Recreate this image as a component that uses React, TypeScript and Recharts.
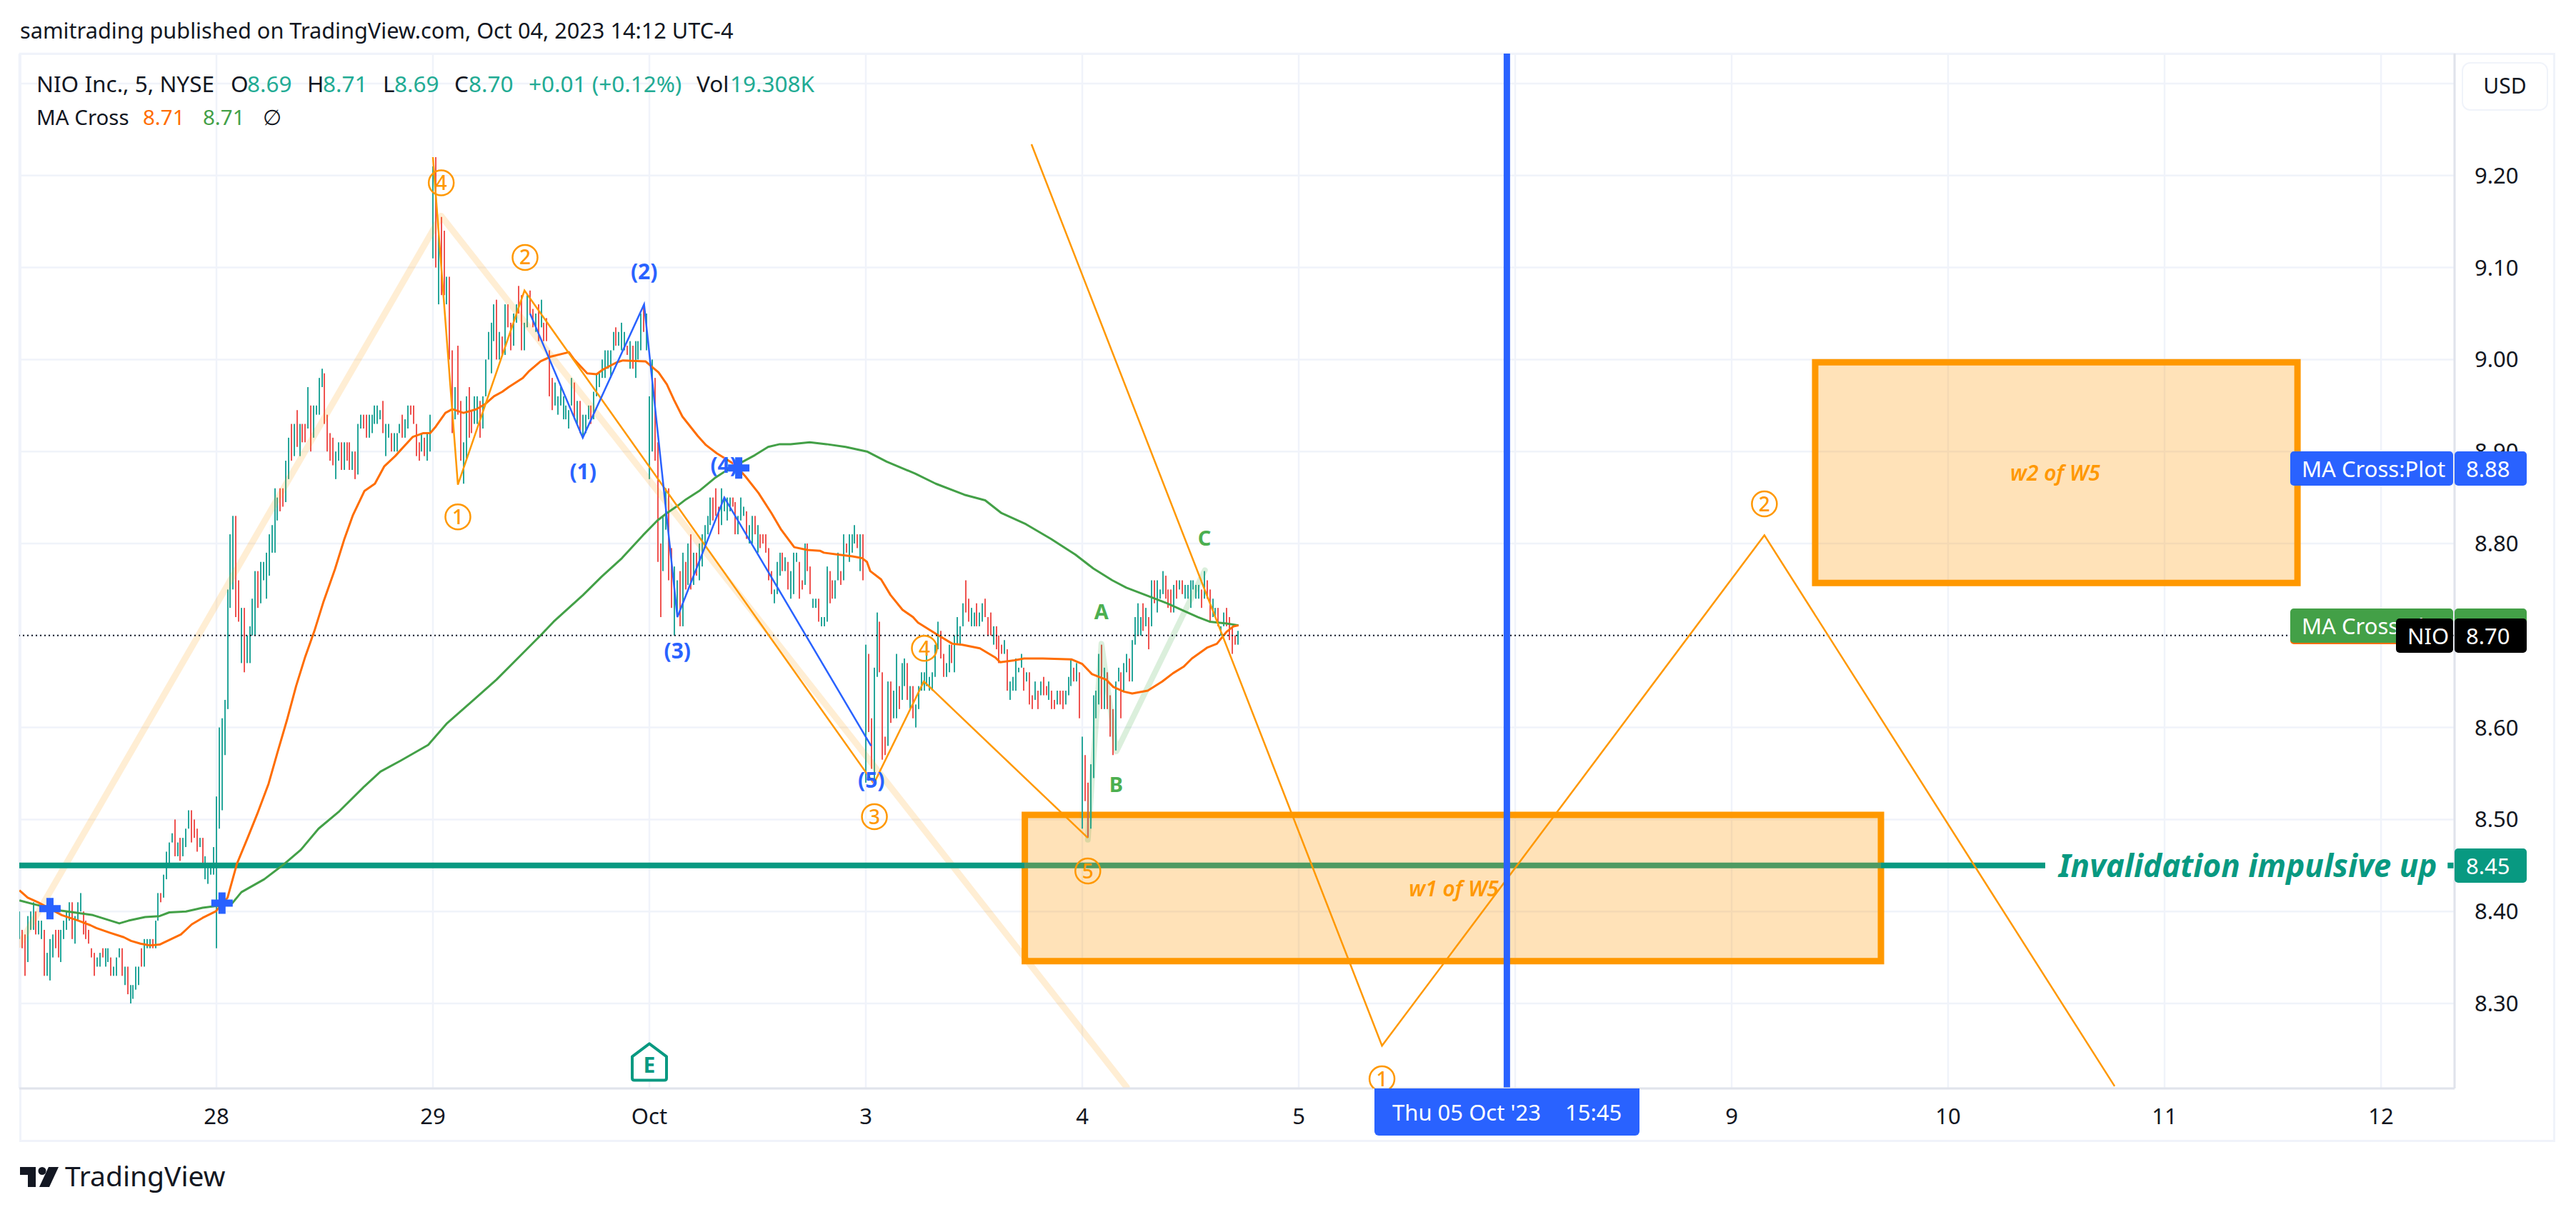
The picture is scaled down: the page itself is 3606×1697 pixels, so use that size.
import React from 'react';
import {
  ComposedChart,
  Bar,
  Line,
  Scatter,
  XAxis,
  YAxis,
  CartesianGrid,
  ReferenceArea,
  ReferenceLine,
} from 'recharts';

// x is counted in 5 minute bars from the Sep 28 open, y in cents
const firstBar = -71;
const xMin = -71.05;
const xMax = 806.5;
const yMin = 820.76;
const yMax = 933.26;

const highs = [
  840,838,837.5,839.5,840,841,840,839,839,838,
  835.5,837,837.5,838,838,838,839,840,841,841,
  839.5,841,842,840,839,838,836,835.5,835,835.5,
  836,836,836,835,834,835,836,836,834,834,
  832,832,834,834,836,837,837,837,837,839,
  842,842,844,846.5,847.5,848.5,850,847.5,848,848,
  849,851,851,850,849,848,848,846,845,845,
  847,852.5,
  860,861,863,875,881,883,883,876,873,873,
  870,871,874,877,877,878,878,879,881,882,
  886,885,886,886,889,891.5,893,893,894.5,893,
  893,893,897,895,895,895,898,899,898.5,894,
  892,891.5,890,891,891,891,891,891,890,890,
  893,894,894,894,894,894,895,895,894.5,895.5,
  893,893,892,892,892,893,894,893.5,895,895,
  895,893,891,892,891.5,892,894,
  921,922,914,915.5,914,909,909,901,897,901.5,
  895.5,891,896,897,894.5,896,896,895.5,896,900,
  903,904,906,906.5,903,902.5,906,906,904,905,
  906,908,907,904,907,907.5,905.5,905,906,906.5,
  904,904.5,901,898,897.5,896,897,896,895,894.5,
  898,897.5,895.5,895.5,894,894,895,895,896.5,898.5,
  898.5,900,901,901,901,903,903.5,903,904,903,
  901.5,902,901.5,902,902,905,906,905,896,900,
  898,891,880,883,886,886,879.5,877.5,876,877,
  879,878,880,881,879,879,880,881,882,883,
  885,885,886,884,886,885,885,885,885,884.5,
  883,885,884,883.5,882,883,883,882,881,881,
  881,879.5,877,875,878,879,879,878.5,878,877,
  879,879,878,876,880,880,877.5,874,874,874,
  872,872,877.5,877,876,876,879,877,881,880,
  881,881,882,881,881,881,
  869,868,861,866.5,872.5,871.5,866,859,865,865,
  864,868,864.5,867,867.5,867,864.5,864.5,862.5,864.5,
  866,866,869,865.5,866,869,871.5,870.5,868,867,
  869,869,870,872,871,873.5,876,874,873,872.5,
  873.5,872.5,873.5,874,872,872.5,871,871,870,869,
  869.5,868.5,865,865.5,867.5,866.5,868,866.5,866,866,
  863.5,865,864,865,865.5,864.5,865,864,863,864,
  864,864,864,865.5,867.5,866.5,867,866,859,857,
  854,856,863.5,864,868,869,866.5,866,863.5,862,
  865,866.5,866,867,868,867.5,869.5,872,873.5,872,
  873.5,873,872,876,876,876,875,877,876.5,875,
  875,875.5,876,876,876,875.5,875.5,876,876,875.5,
  875.5,875,877,876,875,874,873,873,871,872.5,873,872,871,870,870.5,
];

const lows = [
  837,836,833,834.5,838,838,837.5,837.5,837,833,
  833,832.5,835,836,835,834.5,837,838,839,837,
  836.5,839,840,837.5,837,836.5,835,833,834,834,
  835,834,834.5,833,833,833,835,833,832,831,
  830,830.5,831.5,832,834,834,836,836,836,836,
  839,841,841.5,843.5,845,847.5,846,846,845.5,846,
  847,849,847.5,848,846.5,847,845,843.5,843,844,
  844,836,
  849,851,857,862,873,875,872,871.5,867,866,
  867,867,870,870,873,873.5,876,874,876.5,879,
  879,882.5,883.5,884,884.5,887,889,889.5,890.5,889.5,
  891,891,892.5,890,891.5,894,894,897,893,890,
  889,888.5,887,889,888,888,889,888,888,887,
  887.5,892.5,892.5,891.5,891.5,892,893,893,893.5,892,
  889.5,891.5,890,890,890,892,891.5,891.5,892.5,894,
  893,889.5,889,890,889.5,889,890,
  911,910,906,907,907,906,900,892,893.5,894,
  889,886.5,889,891.5,892,893,893,891.5,892.5,896,
  900,898.5,902,900,900,900.5,900.5,903.5,901,901.5,
  904,905,901,901,903.5,905,903.5,903,902,903.5,
  902,902,896,894.5,895,894,895,893.5,893.5,892.5,
  895,893.5,893,892,891.5,892,893.5,893,893.5,896,
  897,898,898,899,898,901,901.5,901.5,901,901,
  900.5,899,899,898,900,901,903,901,887,890,
  889,878,872,877,881.5,876,873,870,872,871,
  871,875,875.5,875,875.5,876.5,876,877.5,879.5,881,
  882,882.5,883,881,882,883.5,882.5,883.5,884,881,
  881,882.5,883,880.5,880,880,881,879,879.5,880,
  879,876,874.5,873.5,874.5,876.5,877,877,875,874,
  874.5,878,874,875,875.5,877,874.5,873,873,871.5,
  871,871,871.5,873.5,874,874,876,875.5,876,879,
  878,879,880,879.5,877,876,
  854,859.5,855.5,854,865.5,866,856.5,857,858,860.5,
  861,861,862,863,864.5,863,862,861,860,862,
  864,864,864.5,864,864,865.5,868.5,867.5,865.5,865.5,
  866,867,866,869,869,871,872.5,871.5,871,871,
  871,871,871.5,872,870,870,869,868.5,867,868,
  868,864,863,864,864,866,866.5,864,865,862.5,
  862,863,862,863.5,863.5,863.5,863,862,862,862.5,
  862.5,862,862.5,863.5,864.5,865,865,861,849,852,
  848,849,854.5,861,862.5,862,862,862,859,857,
  857.5,865,861,864,866,865,865,869,870,870,
  870.5,871,868.5,871,873.5,872.5,874,874.5,874,873,
  872.5,872.5,874,875,874.5,874,874,873,875,874,
  874,873,874,874,871.5,872,872,871,870,871,871,869.5,868,869,869,
];

// G closes up, R closes down
const directions =
  'GRRGGGRGGR' + 'GGGRRGGGGR' + 'GGGRRRRRGG' + 'RGGRGGGRGR' + 'GGGGRGGGRG' +
  'GRGGGGRGRG' + 'GGRRRGRGGG' + 'GG' +
  'GGGGGGRRGR' + 'GGGGRGGGGG' + 'GGRRGGRGRG' + 'RRGRGGGGRR' + 'RRGGRGRRGR' +
  'GGRRGGGGGR' + 'GGRGGGRGGR' + 'RRRGRGG' +
  'GRGRRGRRGR' + 'RGGRRGGRGG' + 'GGGRGRGRRG' + 'GRRGGRRGRG' + 'RRRRGGGGGG' +
  'GRGRGGGRGG' + 'GGGGGGRGGG' + 'RGRGGGRGGG' + 'RRRGGRRGGR' + 'GRGRGRGGGG' +
  'GRRRGGGGRR' + 'GGGRGGRGRR' + 'RRRGGGRGRG' + 'GGRRGRRGGR' + 'GGGRRGGRGR' + 'GGGRGR' +
  'GRRGGRRRGR' + 'GGRGGRGRGG' + 'GGGGGGGRRG' + 'GRGGGGRRGG' + 'RGGRRRGRRR' +
  'GRGGGGGRGR' + 'RGRGRRGRRG' + 'RRGGGRGRGR' + 'RGGGGRGRRR' + 'GGRGGRGGGG' +
  'RGRGRGGGRR' + 'RGRGRGGGGG' + 'GRGRRGGRGGRRRRG';

const maFast = [
  [-71,842.3],[-68,841.5],[-64.3,841],[-60,840.3],[-55.7,839.6],[-49.7,839],[-45.4,838.5],[-43.3,838.2],
  [-38.5,837.7],[-33.4,837.2],[-30.8,836.8],[-27.4,836.5],[-24,836.3],[-20.5,836.4],[-17,836.9],[-12.8,837.5],
  [-8.9,838.6],[-5,839.3],[-0.3,840],[4,841.5],[7.4,845.2],[11.5,848.2],[14.7,850.6],[18.8,853.9],[22,857.3],
  [25.4,860.8],[28.7,864.5],[32,867.7],[35.3,870.5],[38.6,873.7],[42.7,877.2],[46,880.4],[49.2,883.1],
  [53.3,885.7],[57.1,886.5],[60.5,888.4],[64.4,889.5],[68,890.7],[70.8,891.6],[74.6,892],[77,892],
  [79,892.7],[82.5,894.2],[85,894.6],[89,894.2],[93.7,894.6],[97,895.2],[100,896],[103,896.5],[105.3,897],
  [110.4,898],[112.5,898.7],[116.8,899.8],[120.3,900.3],[127,900.8],[128.9,900],[133.6,898.5],[137,898.4],
  [139.2,898.9],[144.3,899.7],[146.5,899.9],[154.6,899.8],[159.3,898.6],[162.3,897.3],[164.9,895.6],
  [167.9,893.8],[173.4,891.7],[176.4,890.7],[180.3,889.8],[186.7,888.6],[190.6,887.3],[195.3,885.5],
  [200,883.3],[203.5,881.5],[208.2,879.6],[212.9,879.3],[217.6,879.2],[218.9,879],[224,878.8],[229.2,878.6],
  [232.7,878.4],[234.4,878],[235.6,877],[239.5,876.1],[242.9,874.4],[247.2,872.8],[251,872],[252.8,871.4],
  [259.7,870.1],[265.2,869.1],[268.7,869],[275.1,868.6],[280.7,867.6],[282.4,867.1],[287.6,867.3],[291,867.5],
  [297.8,867.5],[308.2,867.4],[312,866.9],[315.5,865.8],[320.6,865.2],[323.2,864.4],[327,863.9],[330,863.7],
  [335.6,864],[340.8,865],[344.7,865.9],[348.5,866.6],[351.5,867.5],[357.1,868.7],[360.5,869.1],[364,870.4],
  [366.5,871],[368.3,871.1],
];

const maSlow = [
  [-71,841.2],[-66,840.8],[-56,840.1],[-44.5,839.6],[-35,838.7],[-31.7,839],[-25.7,839.4],[-20.5,839.5],
  [-17,839.9],[-11,840],[-5,840.4],[0,840.6],[2.4,840.6],[5.7,840.9],[9,842.1],[17.2,843.5],[24.6,845.2],
  [30.4,846.7],[36.8,849],[44.3,850.9],[53.3,853.6],[59.1,855.2],[66.4,856.4],[76.3,858.1],[82.9,860.4],
  [92.7,863],[100.9,865.2],[110.8,868.2],[117.4,870.2],[121.5,871.5],[132.1,874.4],[138.8,876.4],[146.1,878.4],
  [153.7,880.9],[158.9,882.5],[162.3,883.3],[166.6,884.2],[169.2,884.8],[173.9,885.7],[179.5,887.1],
  [184.6,888.1],[189.7,888.9],[194,889.6],[198.8,890.5],[203,890.8],[206.9,890.8],[213.8,891],[219.8,890.8],
  [226.7,890.5],[234.4,890],[241.5,888.9],[251.8,887.6],[259.2,886.5],[269.5,885.3],[277,884.7],[282.9,883.3],
  [291.7,882.1],[300.7,880.5],[309.5,878.8],[315.9,877.3],[322.8,876],[327.9,875.2],[334.8,874.4],[342.5,873.5],
  [348.5,872.7],[353.7,872],[357.9,871.5],[364,871.3],[368.3,871.1],
];

const paleImpulse = [[-71,836.4],[81,915.6],[328,820.9]];
const paleCorrection = [[314,847.8],[318.9,869.1],[324.3,857.4],[356.2,877.1]];
const waveOrange = [[78,922],[87,886.4],[111,907.5],[236.9,853.9],[254.9,865],[314,848]];
const waveBlue = [[113,905],[132,891.5],[154.1,906],[166.1,872],[183,885],[235.9,858]];
const projection = [[293.7,923.4],[420,825.4],[557.8,880.9],[684,821]];

const lowerBox = { x1: 291.3, x2: 599.8, y1: 834.6, y2: 850.5 };
const upperBox = { x1: 576.1, x2: 749.9, y1: 875.7, y2: 899.7 };

const invalidationLeft = [[xMin,845],[lowerBox.x1,845]];
const invalidationInBox = [[lowerBox.x1,845],[lowerBox.x2,845]];
const invalidationMiddle = [[lowerBox.x2,845],[659,845]];
const invalidationRight = [[804,845],[xMax,845]];

const circledLabels = [
  [81,919.2,'4'],[111.2,911.1,'2'],[87,882.9,'1'],[237.1,850.3,'3'],
  [255.1,868.6,'4'],[314,844.4,'5'],[420,821.8,'1'],[557.8,884.3,'2'],
];
const blueLabels = [[132.1,887.8,'(1)'],[154.1,909.6,'(2)'],[166.1,868.3,'(3)'],[182.8,888.5,'(4)'],[236,854.3,'(5)']];
const greenLabels = [[318.9,872.6,'A'],[324.2,853.8,'B'],[356,880.6,'C']];
const crossMarks = [[-60,840.3],[2,840.9],[188.2,888.2]];
const earningsMarks = [[156,823.6]];
const boxLabels = [[445.9,842.5,'w1 of W5'],[662.6,887.7,'w2 of W5']];
const lineLabels = [[732,845,'Invalidation impulsive up']];

const dayLabels = ['28','29','Oct','3','4','5','6','9','10','11','12'];
const dayTicks = dayLabels.map((_, i) => i * 78);
const priceTicks = [830,840,850,860,870,880,890,900,910,920,930];

const legendRowOne = [
  ['NIO Inc., 5, NYSE', 51, '#131722'],['O', 323, '#131722'],['8.69', 346, '#22ab94'],['H', 430, '#131722'],
  ['8.71', 452, '#22ab94'],['L', 536, '#131722'],['8.69', 552, '#22ab94'],['C', 636, '#131722'],
  ['8.70', 656, '#22ab94'],['+0.01 (+0.12%)', 740, '#22ab94'],['Vol', 975, '#131722'],['19.308K', 1022, '#22ab94'],
];
const legendRowTwo = [
  ['MA Cross', 51, '#131722'],['8.71', 200, '#ff6d00'],['8.71', 284, '#43a047'],['∅', 368, '#131722'],
];

const FONT = '"Noto Sans", sans-serif';
const UP = '#26a69a';
const DOWN = '#ef5350';
const ORANGE = '#ff9800';
const BLUE = '#2962ff';
const TEAL = '#089981';

const toPoints = (rows: any[]) => rows.map(([x, y, text]) => ({ x, y, text }));

const bars = highs.map((h, i) => ({ x: i + firstBar, range: [lows[i], h], up: directions[i] === 'G' }));

// 5 minute bars read as plain 2px sticks at this zoom
const StickBar = ({ x, y, width, height, payload }: any) => (
  <rect
    x={Math.round(x + width / 2) - 1}
    y={y}
    width={2}
    height={Math.max(height, 1)}
    fill={payload.up ? UP : DOWN}
  />
);

const CircleMark = ({ cx, cy, payload }: any) => (
  <g>
    <circle cx={cx} cy={cy} r={17.5} fill="none" stroke={ORANGE} strokeWidth={2.5} />
    <text x={cx} y={cy + 10} textAnchor="middle" fontFamily={FONT} fontSize={28} fontWeight={500} fill={ORANGE}>{payload.text}</text>
  </g>
);

const TextMark = (color: string, size: number, weight: number, italic: boolean) => ({ cx, cy, payload }: any) => (
  <text
    x={cx}
    y={cy + size * 0.36}
    textAnchor="middle"
    fontFamily={FONT}
    fontSize={size}
    fontWeight={weight}
    fontStyle={italic ? 'italic' : 'normal'}
    fill={color}
  >
    {payload.text}
  </text>
);

const CrossMark = ({ cx, cy }: any) => (
  <path
    d={`M${cx - 5} ${cy - 15}h10v10h10v10h-10v10h-10v-10h-10v-10h10z`}
    fill={BLUE}
  />
);

const EarningsMark = ({ cx, cy }: any) => (
  <g>
    <path
      d={`M${cx} ${cy - 26}L${cx + 24} ${cy - 8}V${cy + 22}q0 3 -3 3H${cx - 21}q-3 0 -3 -3V${cy - 8}z`}
      fill="#fff"
      stroke={TEAL}
      strokeWidth={4}
      strokeLinejoin="round"
    />
    <text x={cx} y={cy + 15} textAnchor="middle" fontFamily={FONT} fontSize={30} fontWeight={700} fill={TEAL}>E</text>
  </g>
);

const PriceTag = ({ left, top, width, color, label }: any) => (
  <div
    style={{
      position: 'absolute',
      left,
      top,
      width,
      height: 48,
      background: color,
      borderRadius: 5,
      color: '#fff',
      fontSize: 31,
      lineHeight: '48px',
      fontFamily: FONT,
      whiteSpace: 'nowrap',
      overflow: 'hidden',
    }}
  >
    <span style={{ position: 'absolute', left: 16 }}>{label}</span>
  </div>
);

const Text = ({ left, top, color, size = 31, weight = 400, children }: any) => (
  <div
    style={{
      position: 'absolute',
      left,
      top,
      color,
      fontSize: size,
      fontWeight: weight,
      fontFamily: FONT,
      lineHeight: 1,
      whiteSpace: 'nowrap',
    }}
  >
    {children}
  </div>
);

export default function App() {
  return (
    <div style={{ position: 'absolute', left: 0, top: 0, width: 3606, height: 1697, background: '#fff', overflow: 'hidden' }}>
      <div style={{ position: 'absolute', left: 27, top: 74, width: 3550, height: 1525, border: '3px solid #f0f3fa', boxSizing: 'border-box' }} />

      <ComposedChart
        width={3606}
        height={1697}
        data={bars}
        margin={{ top: 75, right: 28, bottom: 97, left: 27 }}
        style={{ position: 'absolute', left: 0, top: 0 }}
      >
        <CartesianGrid stroke="#f0f3fa" strokeWidth={2.5} />
        <XAxis
          type="number"
          dataKey="x"
          domain={[xMin, xMax]}
          allowDataOverflow
          ticks={dayTicks}
          interval={0}
          height={76}
          stroke="#e0e3eb"
          strokeWidth={3}
          tickLine={false}
          tickMargin={22}
          tick={{ fontFamily: FONT, fontSize: 31, fill: '#131722' }}
          tickFormatter={(v: number) => dayLabels[v / 78]}
        />
        <YAxis
          type="number"
          dataKey="y"
          orientation="right"
          domain={[yMin, yMax]}
          allowDataOverflow
          ticks={priceTicks}
          interval={0}
          width={142}
          stroke="#e0e3eb"
          strokeWidth={3}
          tickLine={false}
          tickMargin={22}
          tick={{ fontFamily: FONT, fontSize: 31, fill: '#131722' }}
          tickFormatter={(v: number) => (v / 100).toFixed(2)}
        />

        <Line data={toPoints(paleImpulse)} dataKey="y" stroke={ORANGE} strokeOpacity={0.17} strokeWidth={9} strokeLinecap="round" strokeLinejoin="round" dot={false} isAnimationActive={false} />
        <Line data={toPoints(invalidationLeft)} dataKey="y" stroke={TEAL} strokeWidth={8} dot={false} isAnimationActive={false} />
        <Line data={toPoints(invalidationInBox)} dataKey="y" stroke="#4d9a62" strokeWidth={8} dot={false} isAnimationActive={false} />
        <Line data={toPoints(invalidationMiddle)} dataKey="y" stroke={TEAL} strokeWidth={8} dot={false} isAnimationActive={false} />
        <Line data={toPoints(invalidationRight)} dataKey="y" stroke={TEAL} strokeWidth={8} dot={false} isAnimationActive={false} />

        <Bar dataKey="range" barSize={2} shape={StickBar} isAnimationActive={false} />

        <Line data={toPoints(paleCorrection)} dataKey="y" stroke="#4caf50" strokeOpacity={0.2} strokeWidth={8} strokeLinecap="round" strokeLinejoin="round" dot={false} isAnimationActive={false} />
        <Line data={toPoints(maSlow)} dataKey="y" stroke="#43a047" strokeWidth={3} strokeLinejoin="round" dot={false} isAnimationActive={false} />
        <Line data={toPoints(maFast)} dataKey="y" stroke="#ff6d00" strokeWidth={3} strokeLinejoin="round" dot={false} isAnimationActive={false} />

        <ReferenceLine y={870} stroke="#131722" strokeWidth={2} strokeDasharray="2 4" />

        <Line data={toPoints(waveOrange)} dataKey="y" stroke={ORANGE} strokeWidth={2.5} dot={false} isAnimationActive={false} />
        <Line data={toPoints(waveBlue)} dataKey="y" stroke={BLUE} strokeWidth={2.5} dot={false} isAnimationActive={false} />

        <ReferenceArea {...lowerBox} fill={ORANGE} fillOpacity={0.28} stroke={ORANGE} strokeWidth={9} />
        <ReferenceArea {...upperBox} fill={ORANGE} fillOpacity={0.28} stroke={ORANGE} strokeWidth={9} />

        <Line data={toPoints(projection)} dataKey="y" stroke={ORANGE} strokeWidth={2.5} dot={false} isAnimationActive={false} />
        <ReferenceLine x={465} stroke={BLUE} strokeWidth={9} />

        <Scatter data={toPoints(circledLabels)} shape={CircleMark} isAnimationActive={false} />
        <Scatter data={toPoints(blueLabels)} shape={TextMark(BLUE, 30, 700, false)} isAnimationActive={false} />
        <Scatter data={toPoints(greenLabels)} shape={TextMark('#4caf50', 29, 700, false)} isAnimationActive={false} />
        <Scatter data={toPoints(crossMarks)} shape={CrossMark} isAnimationActive={false} />
        <Scatter data={toPoints(earningsMarks)} shape={EarningsMark} isAnimationActive={false} />
        <Scatter data={toPoints(boxLabels)} shape={TextMark(ORANGE, 30, 600, true)} isAnimationActive={false} />
        <Scatter data={toPoints(lineLabels)} shape={TextMark(TEAL, 44, 700, true)} isAnimationActive={false} />
      </ComposedChart>

      <Text left={28} top={27} color="#131722" size={30.7}>samitrading published on TradingView.com, Oct 04, 2023 14:12 UTC-4</Text>
      {legendRowOne.map(([label, left, color]: any) => (
        <Text key={`${label}${left}`} left={left} top={101} color={color} size={31.5}>{label}</Text>
      ))}
      {legendRowTwo.map(([label, left, color]: any) => (
        <Text key={`${label}${left}`} left={left} top={149} color={color} size={29.5}>{label}</Text>
      ))}

      <div style={{ position: 'absolute', left: 3446, top: 87, width: 121, height: 68, background: '#fff', border: '2px solid #f0f3fa', borderRadius: 12, boxSizing: 'border-box', textAlign: 'center', lineHeight: '62px', fontFamily: FONT, fontSize: 30, color: '#131722' }}>USD</div>

      <PriceTag left={3206} top={632} width={228} color={BLUE} label="MA Cross:Plot" />
      <PriceTag left={3436} top={632} width={101} color={BLUE} label="8.88" />
      <PriceTag left={3206} top={854} width={228} color="#ff6d00" label="" />
      <PriceTag left={3206} top={852} width={228} color="#43a047" label="MA Cross:Plot" />
      <PriceTag left={3436} top={852} width={101} color="#43a047" label="8.71" />
      <PriceTag left={3354} top={866} width={80} color="#000" label="NIO" />
      <PriceTag left={3436} top={866} width={101} color="#000" label="8.70" />
      <PriceTag left={3436} top={1188} width={101} color={TEAL} label="8.45" />

      <div style={{ position: 'absolute', left: 1924, top: 1524, width: 371, height: 66, background: BLUE, borderRadius: '0 0 6px 6px', color: '#fff', fontFamily: FONT, fontSize: 31, lineHeight: '66px', whiteSpace: 'nowrap' }}>
        <span style={{ position: 'absolute', left: 25 }}>Thu 05 Oct '23</span>
        <span style={{ position: 'absolute', left: 267 }}>15:45</span>
      </div>

      <svg style={{ position: 'absolute', left: 28, top: 1634 }} width={54} height={28}>
        <path d="M0 0H22V28H11V11H0Z" fill="#131722" />
        <circle cx={31} cy={5.5} r={5.5} fill="#131722" />
        <path d="M40 0H54L41 28H27Z" fill="#131722" />
      </svg>
      <Text left={91} top={1626} color="#131722" size={39}>TradingView</Text>
    </div>
  );
}
